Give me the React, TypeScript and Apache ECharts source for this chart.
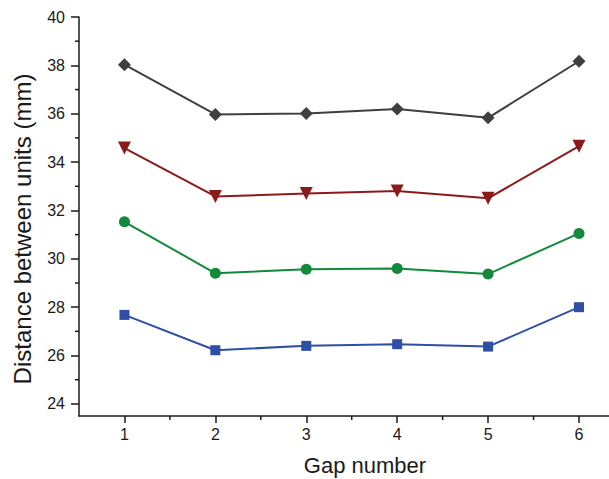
import React, { useEffect, useRef } from "react";
import * as echarts from "echarts";

const gaps = [1, 2, 3, 4, 5, 6];
const seriesTop = [38.03, 35.97, 36.01, 36.2, 35.83, 38.17];
const seriesRed = [34.58, 32.58, 32.7, 32.8, 32.5, 34.66];
const seriesGreen = [31.53, 29.4, 29.57, 29.6, 29.37, 31.05];
const seriesBlue = [27.68, 26.22, 26.4, 26.47, 26.37, 28.0];
const yMajor = [24, 26, 28, 30, 32, 34, 36, 38, 40];
const yMinor = [25, 27, 29, 31, 33, 35, 37, 39];
const xMajor = [1, 2, 3, 4, 5, 6];
const xMinor = [1.5, 2.5, 3.5, 4.5, 5.5];

const X_MIN = 0.5;
const X_MAX = 6.33;
const Y_MIN = 23.5;
const Y_MAX = 40;

const FONT = "Liberation Sans, Arial, sans-serif";
const AX = "#1a1a1a";

export default function App() {
  const ref = useRef<HTMLDivElement>(null);
  useEffect(() => {
    if (!ref.current) return;
    const chart = echarts.init(ref.current, null, { renderer: "svg" });
    const mk = (vals: number[]) => gaps.map((g, i) => [g, vals[i]]);
    const line = (name: string, vals: number[], color: string, symbol: string, size: number, rot = 0) => ({
      name,
      type: "line",
      data: mk(vals),
      symbol,
      symbolSize: size,
      symbolRotate: rot,
      showAllSymbol: true,
      lineStyle: { color, width: 2 },
      itemStyle: { color, borderWidth: 0 },
      z: 3,
    });
    const minorTicks = (data: number[][], horizontal: boolean) => ({
      type: "custom",
      silent: true,
      clip: false,
      data,
      z: 1,
      renderItem: (_params: any, api: any) => {
        const p = api.coord([api.value(0), api.value(1)]);
        const shape = horizontal
          ? { x1: p[0] - 4, y1: p[1], x2: p[0], y2: p[1] }
          : { x1: p[0], y1: p[1], x2: p[0], y2: p[1] + 4 };
        return { type: "line", shape, style: { stroke: AX, lineWidth: 1.5 } };
      },
    });
    chart.setOption({
      animation: false,
      grid: { left: 79, right: 0, top: 17, bottom: 63 },
      xAxis: {
        type: "value",
        min: X_MIN,
        max: X_MAX,
        axisLine: { show: true, lineStyle: { color: AX, width: 1.5 } },
        axisTick: { show: true, inside: false, length: 7, lineStyle: { color: AX, width: 1.5 }, customValues: xMajor },
        axisLabel: { show: true, customValues: xMajor, margin: 10, fontSize: 16, color: "#1a1a1a", fontFamily: FONT },
        splitLine: { show: false },
      },
      yAxis: {
        type: "value",
        min: Y_MIN,
        max: Y_MAX,
        axisLine: { show: true, lineStyle: { color: AX, width: 1.5 } },
        axisTick: { show: true, inside: false, length: 8, lineStyle: { color: AX, width: 1.5 }, customValues: yMajor },
        axisLabel: { show: true, customValues: yMajor, margin: 14, fontSize: 16, color: "#1a1a1a", fontFamily: FONT },
        splitLine: { show: false },
      },
      graphic: [
        {
          type: "text",
          x: 22,
          y: 229,
          rotation: Math.PI / 2,
          style: {
            text: "Distance between units (mm)",
            fontSize: 24,
            fontFamily: FONT,
            fill: "#1a1a1a",
            align: "center",
            verticalAlign: "middle",
          },
        },
        {
          type: "text",
          x: 365,
          y: 465,
          style: {
            text: "Gap number",
            fontSize: 22,
            fontFamily: FONT,
            fill: "#1a1a1a",
            align: "center",
            verticalAlign: "middle",
          },
        },
      ],
      series: [
        minorTicks(yMinor.map((v) => [X_MIN, v]), true),
        minorTicks(xMinor.map((v) => [v, Y_MIN]), false),
        line("top", seriesTop, "#3f3f3f", "diamond", 13),
        line("red", seriesRed, "#8c1a1a", "triangle", 13, 180),
        line("green", seriesGreen, "#13893b", "circle", 11),
        line("blue", seriesBlue, "#2f4fa6", "rect", 10),
      ],
    });
    return () => chart.dispose();
  }, []);
  return <div ref={ref} style={{ width: 609, height: 479, position: "absolute", left: 0, top: 0 }} />;
}
